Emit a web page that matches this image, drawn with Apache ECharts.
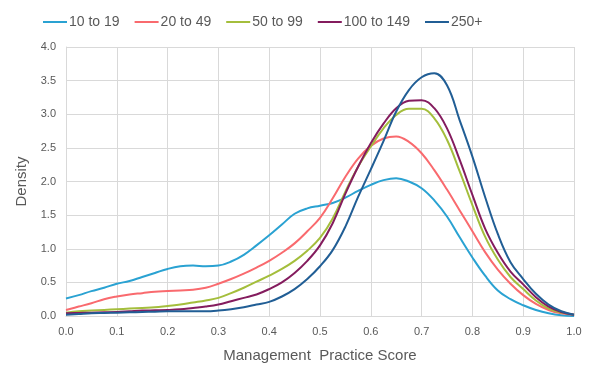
<!DOCTYPE html>
<html>
<head>
<meta charset="utf-8">
<script src="https://cdn.jsdelivr.net/npm/echarts@6/dist/echarts.min.js"></script>
<style>
  html, body { margin: 0; padding: 0; background: #fff; }
  #densityChart { width: 597px; height: 378px; }
</style>
</head>
<body>
<div id="densityChart"></div>
<script>
// score points (x axis)
var scores = [0, 0.025, 0.05, 0.075, 0.1, 0.125, 0.15, 0.175, 0.2, 0.225,
  0.25, 0.275, 0.3, 0.325, 0.35, 0.375, 0.4, 0.425, 0.45, 0.475,
  0.5, 0.525, 0.55, 0.575, 0.6, 0.625, 0.65, 0.675, 0.7, 0.725,
  0.75, 0.775, 0.8, 0.825, 0.85, 0.875, 0.9, 0.925, 0.95, 0.975, 1.0];

var sizeNames = ['10 to 19', '20 to 49', '50 to 99', '100 to 149', '250+'];
var sizeColors = ['#2AA2D2', '#F96A6E', '#A4BE3C', '#841C5E', '#215E95'];

// density
var d10to19 = [0.26, 0.31, 0.37, 0.42, 0.48, 0.52, 0.58, 0.64, 0.70, 0.74,
  0.75, 0.74, 0.75, 0.81, 0.91, 1.05, 1.20, 1.36, 1.52, 1.60,
  1.64, 1.68, 1.76, 1.86, 1.95, 2.02, 2.05, 2.00, 1.90, 1.72,
  1.48, 1.17, 0.87, 0.60, 0.38, 0.25, 0.16, 0.09, 0.04, 0.01, 0.0];
var d20to49 = [0.09, 0.14, 0.19, 0.25, 0.29, 0.32, 0.34, 0.36, 0.37, 0.38,
  0.39, 0.42, 0.48, 0.55, 0.63, 0.72, 0.82, 0.94, 1.08, 1.26,
  1.46, 1.75, 2.07, 2.34, 2.53, 2.64, 2.67, 2.59, 2.42, 2.17,
  1.88, 1.57, 1.26, 0.95, 0.69, 0.48, 0.31, 0.18, 0.09, 0.04, 0.02];
var d50to99 = [0.05, 0.07, 0.08, 0.09, 0.10, 0.11, 0.12, 0.13, 0.15, 0.17,
  0.20, 0.23, 0.27, 0.34, 0.42, 0.51, 0.60, 0.70, 0.82, 0.97,
  1.16, 1.45, 1.85, 2.22, 2.52, 2.79, 2.99, 3.08, 3.08, 2.94,
  2.62, 2.15, 1.65, 1.18, 0.84, 0.58, 0.40, 0.23, 0.11, 0.05, 0.02];
var d100to149 = [0.04, 0.045, 0.05, 0.055, 0.06, 0.07, 0.08, 0.085, 0.09, 0.10,
  0.12, 0.14, 0.17, 0.22, 0.27, 0.32, 0.40, 0.50, 0.64, 0.82,
  1.05, 1.38, 1.82, 2.22, 2.57, 2.86, 3.09, 3.20, 3.21, 3.09,
  2.79, 2.32, 1.80, 1.30, 0.94, 0.66, 0.47, 0.28, 0.14, 0.06, 0.02];
var d250plus = [0.02, 0.03, 0.04, 0.045, 0.05, 0.055, 0.06, 0.065, 0.07, 0.07,
  0.07, 0.07, 0.08, 0.10, 0.13, 0.17, 0.21, 0.29, 0.40, 0.55,
  0.74, 0.98, 1.33, 1.77, 2.18, 2.60, 3.04, 3.36, 3.55, 3.61,
  3.43, 2.91, 2.37, 1.77, 1.22, 0.80, 0.55, 0.33, 0.17, 0.07, 0.02];

var allDensity = [d10to19, d20to49, d50to99, d100to149, d250plus];

function pairs(ys) {
  return scores.map(function (x, i) { return [x, ys[i]]; });
}

var chart = echarts.init(document.getElementById('densityChart'));
var fontFam = '"Liberation Sans", Arial, sans-serif';

var option = {
  animation: false,
  color: sizeColors,
  legend: {
    top: 10,
    left: 38,
    itemWidth: 24,
    itemHeight: 2,
    itemGap: 15,
    icon: 'rect',
    textStyle: { color: '#595959', fontSize: 14, fontFamily: fontFam, padding: [0, 0, 0, -3] },
    data: sizeNames
  },
  grid: { left: 66, right: 23, top: 47, bottom: 62 },
  xAxis: {
    type: 'value',
    min: 0,
    max: 1,
    interval: 0.1,
    name: 'Management  Practice Score',
    nameLocation: 'middle',
    nameGap: 32,
    nameTextStyle: { color: '#595959', fontSize: 15, fontFamily: fontFam },
    axisLine: { show: true, lineStyle: { color: '#D9D9D9' } },
    axisTick: { show: false },
    axisLabel: {
      color: '#595959', fontSize: 11, fontFamily: fontFam, margin: 10,
      formatter: function (v) { return v.toFixed(1); }
    },
    splitLine: { show: true, lineStyle: { color: '#D9D9D9' } }
  },
  yAxis: {
    type: 'value',
    min: 0,
    max: 4,
    interval: 0.5,
    name: 'Density',
    nameLocation: 'middle',
    nameGap: 31,
    nameTextStyle: { color: '#595959', fontSize: 15, fontFamily: fontFam },
    axisLine: { show: true, lineStyle: { color: '#D9D9D9' } },
    axisTick: { show: false },
    axisLabel: {
      color: '#595959', fontSize: 11, fontFamily: fontFam, margin: 10,
      formatter: function (v) { return v.toFixed(1); }
    },
    splitLine: { show: true, lineStyle: { color: '#D9D9D9' } }
  },
  series: sizeNames.map(function (name, i) {
    return {
      name: name,
      type: 'line',
      smooth: 0.4,
      showSymbol: false,
      lineStyle: { width: 2 },
      data: pairs(allDensity[i])
    };
  })
};

chart.setOption(option);
</script>
</body>
</html>
